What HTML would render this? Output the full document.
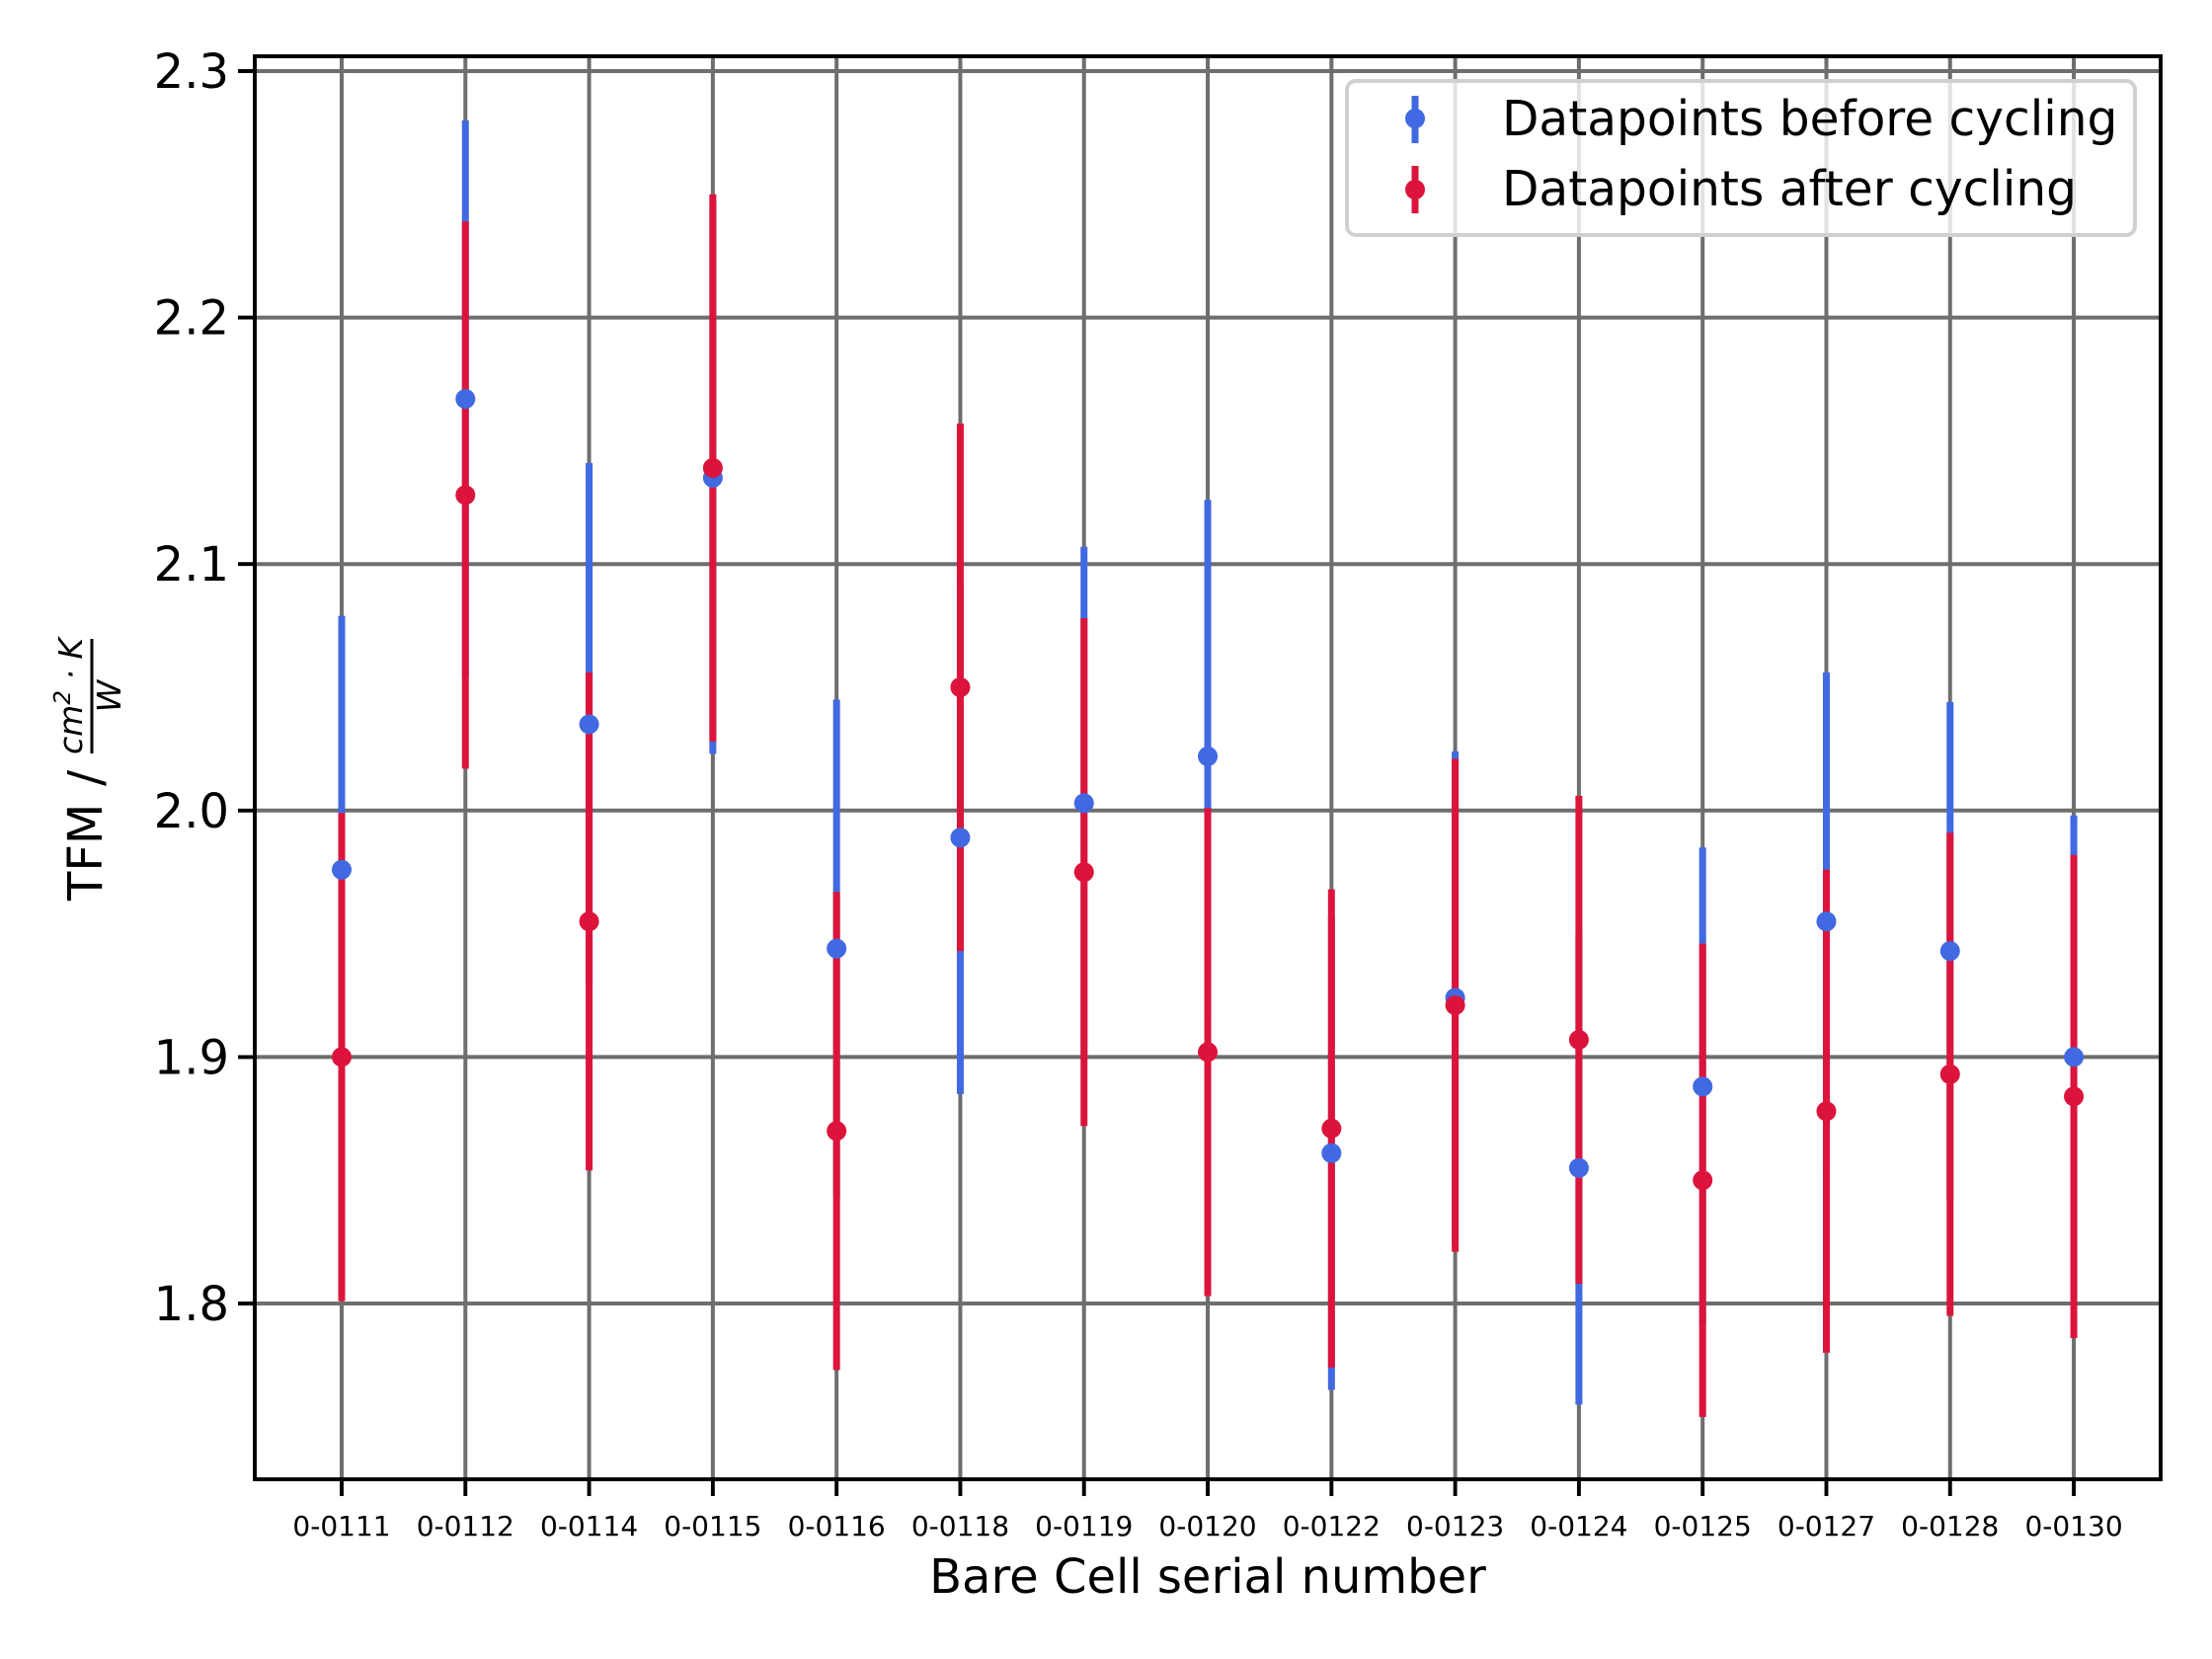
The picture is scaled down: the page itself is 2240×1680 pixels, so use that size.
<!DOCTYPE html>
<html><head><meta charset="utf-8"><style>
html,body{margin:0;padding:0;background:#fff}
svg{display:block}
text{font-family:"DejaVu Sans","Liberation Sans",sans-serif;fill:#000}
</style></head><body>
<svg id="chart" width="2240" height="1680" viewBox="0 0 2240 1680" xmlns="http://www.w3.org/2000/svg">
<rect x="0" y="0" width="2240" height="1680" fill="#fff"/>
<g id="grid"></g>
<g id="bars"></g>
<g id="marks"></g>
<rect x="258" y="57" width="1930" height="1441" fill="none" stroke="#000" stroke-width="3.9"/>
<g id="yticks"></g>
<g id="xticks"></g>
<text x="1223" y="1613" font-size="48" text-anchor="middle">Bare Cell serial number</text>
<g transform="rotate(-90)">
  <text x="-912" y="103" font-size="48">TFM</text>
  <text x="-796" y="103" font-size="48">/</text>
  <text x="-705" y="83" font-size="33" font-style="italic" text-anchor="middle">cm<tspan font-size="23" dy="-12">2</tspan><tspan dy="12"> · K</tspan></text>
  <line x1="-763" y1="93" x2="-647" y2="93" stroke="#000" stroke-width="3"/>
  <text x="-705" y="122" font-size="33" font-style="italic" text-anchor="middle">W</text>
</g>
<g>
  <rect x="1364" y="82" width="798" height="156" rx="9" fill="#fff" fill-opacity="0.8" stroke="#d0d0d0" stroke-width="4"/>
  <line x1="1433" y1="97" x2="1433" y2="145" stroke="#4169E1" stroke-width="7"/>
  <circle cx="1433" cy="120" r="10" fill="#4169E1"/>
  <text x="1521" y="137" font-size="48.6">Datapoints before cycling</text>
  <line x1="1433" y1="168" x2="1433" y2="216" stroke="#DC143C" stroke-width="7"/>
  <circle cx="1433" cy="192" r="10" fill="#DC143C"/>
  <text x="1521" y="208" font-size="48.6">Datapoints after cycling</text>
</g>
</svg>
<script>
const categories = ["0-0111","0-0112","0-0114","0-0115","0-0116","0-0118","0-0119","0-0120","0-0122","0-0123","0-0124","0-0125","0-0127","0-0128","0-0130"];
const beforeValues = [1.976,2.167,2.035,2.135,1.944,1.989,2.003,2.022,1.861,1.924,1.855,1.888,1.955,1.943,1.900];
const beforeErrors = [0.103,0.113,0.106,0.112,0.101,0.104,0.104,0.104,0.096,0.100,0.096,0.097,0.101,0.101,0.098];
const afterValues = [1.900,2.128,1.955,2.139,1.870,2.050,1.975,1.902,1.871,1.921,1.907,1.850,1.878,1.893,1.884];
const afterErrors = [0.099,0.111,0.101,0.111,0.097,0.107,0.103,0.099,0.097,0.100,0.099,0.096,0.098,0.098,0.098];
const yTickValues = [1.8,1.9,2.0,2.1,2.2,2.3];
const yTickLabels = ["1.8","1.9","2.0","2.1","2.2","2.3"];

const NS = "http://www.w3.org/2000/svg";
const L = 258, R = 2188, T = 57, B = 1498;
function xScale(i){ return 346 + i * 125.29; }
function yScale(v){ return 72 + (2.3 - v) * 2496; }
function mk(tag, attrs, parent){
  const e = document.createElementNS(NS, tag);
  for (const k in attrs) e.setAttribute(k, attrs[k]);
  parent.appendChild(e);
  return e;
}
const grid = document.getElementById('grid');
const yt = document.getElementById('yticks');
const xt = document.getElementById('xticks');
const bars = document.getElementById('bars');
const marks = document.getElementById('marks');

yTickValues.forEach((v, i) => {
  const y = yScale(v);
  const g = mk('line', {x1:L, x2:R, y1:y, y2:y, stroke:'#6e6e6e', 'stroke-width':4}, grid);
  
  
  const t = mk('line', {x1:L-17, x2:L, y1:y, y2:y, stroke:'#000', 'stroke-width':3.9}, yt);
  
  
  const lb = mk('text', {x:L-26, y:y+17, 'font-size':48, 'text-anchor':'end'}, yt);
  lb.textContent = yTickLabels[i];
  
  
});
categories.forEach((c, i) => {
  const x = xScale(i);
  const g = mk('line', {x1:x, x2:x, y1:T, y2:B, stroke:'#6e6e6e', 'stroke-width':4}, grid);
  
  
  const t = mk('line', {x1:x, x2:x, y1:B, y2:B+17, stroke:'#000', 'stroke-width':3.9}, xt);
  
  
  const lb = mk('text', {x:x, y:1555, 'font-size':28, 'text-anchor':'middle'}, xt);
  lb.textContent = c;
  
  
});
function drawBars(vals, errs, color, name){
  vals.forEach((v, i) => {
    const x = xScale(i);
    const l = mk('line', {x1:x, x2:x, y1:yScale(v+errs[i]), y2:yScale(v-errs[i]), stroke:color, 'stroke-width':7}, bars);
    
    
  });
}
function drawPoints(vals, color, name){
  vals.forEach((v, i) => {
    const c = mk('circle', {cx:xScale(i), cy:yScale(v), r:10, fill:color}, marks);
    
    
  });
}
drawBars(beforeValues, beforeErrors, '#4169E1', 'before');
drawBars(afterValues, afterErrors, '#DC143C', 'after');
drawPoints(beforeValues, '#4169E1', 'before');
drawPoints(afterValues, '#DC143C', 'after');
</script>
</body></html>
